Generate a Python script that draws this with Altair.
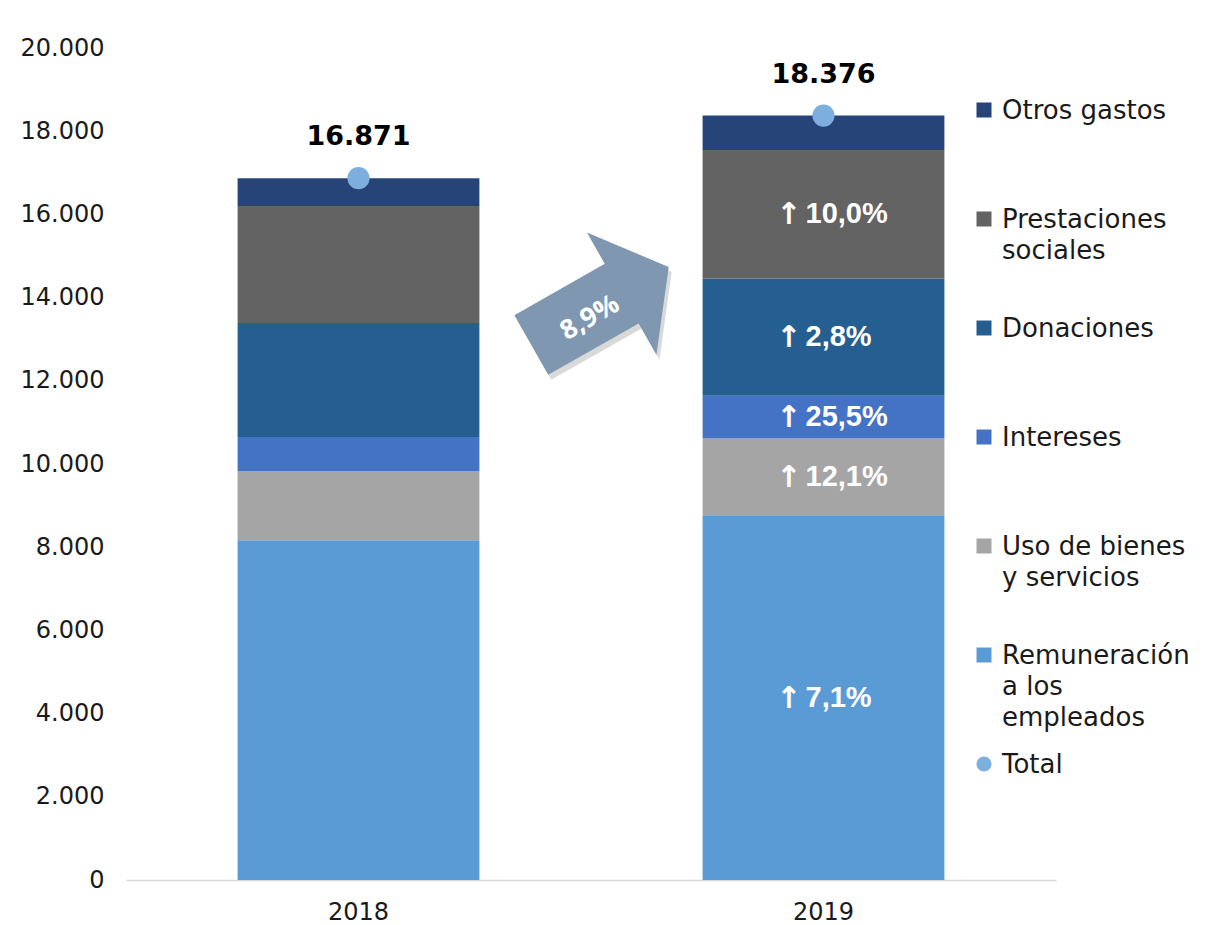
import altair as alt
import pandas as pd

years = ["2018", "2019"]
categories = ["Remuneración a los empleados", "Uso de bienes y servicios", "Intereses",
              "Donaciones", "Prestaciones sociales", "Otros gastos"]
values_2018 = [8170, 1660, 820, 2740, 2810, 671]
values_2019 = [8750, 1861, 1029, 2817, 3091, 828]
growth_2019 = ["7,1%", "12,1%", "25,5%", "2,8%", "10,0%", ""]
totals = [16871, 18376]
total_growth = ["8,9%"]
legend_order = ["Otros gastos", "Prestaciones sociales", "Donaciones", "Intereses",
                "Uso de bienes y servicios", "Remuneración a los empleados", "Total"]
legend_labels = ["Otros gastos", "Prestaciones\nsociales", "Donaciones", "Intereses",
                 "Uso de bienes\ny servicios", "Remuneración\na los\nempleados", "Total"]
y_ticks = [0, 2000, 4000, 6000, 8000, 10000, 12000, 14000, 16000, 18000, 20000]

colors = ["#5B9BD5", "#A5A5A5", "#4472C4", "#255E91", "#636363", "#264478"]
total_color = "#7DAFDE"
arrow_color = "#8097B1"
FONT = "DejaVu Sans"

rows = []
for i, c in enumerate(categories):
    rows.append({"year": years[0], "cat": c, "idx": i, "value": values_2018[i], "pct": ""})
    rows.append({"year": years[1], "cat": c, "idx": i, "value": values_2019[i], "pct": growth_2019[i]})
df = pd.DataFrame(rows)
tot_df = pd.DataFrame({"year": years, "total": totals})
arrow_df = pd.DataFrame({"label": total_growth})
leg_df = pd.DataFrame({"cat": legend_order, "label": legend_labels, "rank": list(range(len(legend_order)))})

xenc = alt.X("year:N", title=None,
             scale=alt.Scale(paddingInner=0.48, paddingOuter=0.24),
             axis=alt.Axis(labelAngle=0, labelFont=FONT, labelFontSize=24, labelColor="#1a1a1a",
                           labelPadding=20, ticks=False, domainColor="#D9D9D9", domainWidth=1.5))
yscale = alt.Scale(domain=[0, 20000], nice=False)
cscale = alt.Scale(domain=categories, range=colors)

bars = alt.Chart(df).mark_bar().encode(
    x=xenc,
    y=alt.Y("value:Q", stack="zero", scale=yscale, title=None,
            axis=alt.Axis(values=y_ticks, grid=False, domain=False, ticks=False,
                          labelFont=FONT, labelFontSize=24, labelColor="#1a1a1a", labelPadding=22,
                          labelExpr="replace(format(datum.value, ','), ',', '.')")),
    color=alt.Color("cat:N", scale=cscale, legend=None),
    order=alt.Order("idx:Q"),
)

seg_base = alt.Chart(df).transform_stack(
    stack="value", groupby=["year"], as_=["y0", "y1"], sort=[alt.SortField("idx")]
).transform_calculate(
    mid="(datum.y0 + datum.y1) / 2", arrow="'↑'"
).transform_filter("datum.pct != ''")

seg_labels = seg_base.mark_text(
    color="white", font="Liberation Sans", fontWeight="bold", fontSize=29, baseline="middle",
    align="left", dx=-18
).encode(x=alt.X("year:N"), y=alt.Y("mid:Q", scale=yscale), text="pct:N")

seg_arrows = seg_base.mark_text(
    color="white", font="DejaVu Sans", fontWeight="bold", fontSize=30, baseline="middle",
    align="right", dx=-22, dy=1
).encode(x=alt.X("year:N"), y=alt.Y("mid:Q", scale=yscale), text="arrow:N")

tot_points = alt.Chart(tot_df).mark_circle(size=490, color=total_color, opacity=1).encode(
    x=alt.X("year:N"), y=alt.Y("total:Q", scale=yscale))

tot_text = alt.Chart(tot_df).transform_calculate(
    lab="replace(format(datum.total, ','), ',', '.')"
).mark_text(font=FONT, fontWeight="bold", fontSize=27, dy=-41, color="black").encode(
    x=alt.X("year:N"), y=alt.Y("total:Q", scale=yscale), text="lab:N")

arrow_path = "M -1 -0.434 L 0.316 -0.434 L 0.316 -0.89 L 1 0 L 0.316 0.89 L 0.316 0.434 L -1 0.434 Z"
arrow_shadow = alt.Chart(arrow_df).mark_point(
    shape=arrow_path, size=24964, angle=330.4, filled=True, fill="#000000", opacity=0.15, strokeWidth=0
).encode(x=alt.value(477), y=alt.value(263))
arrow = alt.Chart(arrow_df).mark_point(
    shape=arrow_path, size=24964, angle=330.4, filled=True, fill=arrow_color, opacity=1, strokeWidth=0
).encode(x=alt.value(474), y=alt.value(258))
arrow_text = alt.Chart(arrow_df).mark_text(
    font="Open Sans", fontWeight="bold", fontSize=27, color="white", angle=330, baseline="middle"
).encode(x=alt.value(464), y=alt.value(270), text="label:N")

leg_base = alt.Chart(leg_df).transform_calculate(ly="62 + datum.rank * 109")
leg_squares = leg_base.transform_filter("datum.cat != 'Total'").mark_square(size=225, opacity=1).encode(
    x=alt.value(858), y=alt.Y("ly:Q", scale=None, axis=None),
    color=alt.Color("cat:N", scale=cscale, legend=None))
leg_circle = leg_base.transform_filter("datum.cat == 'Total'").mark_circle(
    size=230, opacity=1, color=total_color).encode(
    x=alt.value(858), y=alt.Y("ly:Q", scale=None, axis=None))
leg_text = leg_base.mark_text(
    align="left", baseline="top", dy=-12, lineBreak="\n", lineHeight=31,
    font=FONT, fontSize=26, color="#1a1a1a").encode(
    x=alt.value(876), y=alt.Y("ly:Q", scale=None, axis=None), text="label:N")

chart = alt.layer(
    bars, seg_labels, seg_arrows, tot_points, tot_text, arrow_shadow, arrow, arrow_text,
    leg_squares, leg_circle, leg_text
).properties(
    width=930, height=832,
    padding={"left": 12, "top": 28, "right": 5, "bottom": 5}
).configure_view(stroke=None)

chart.save("out.html", embed_options={"renderer": "svg", "actions": False})
